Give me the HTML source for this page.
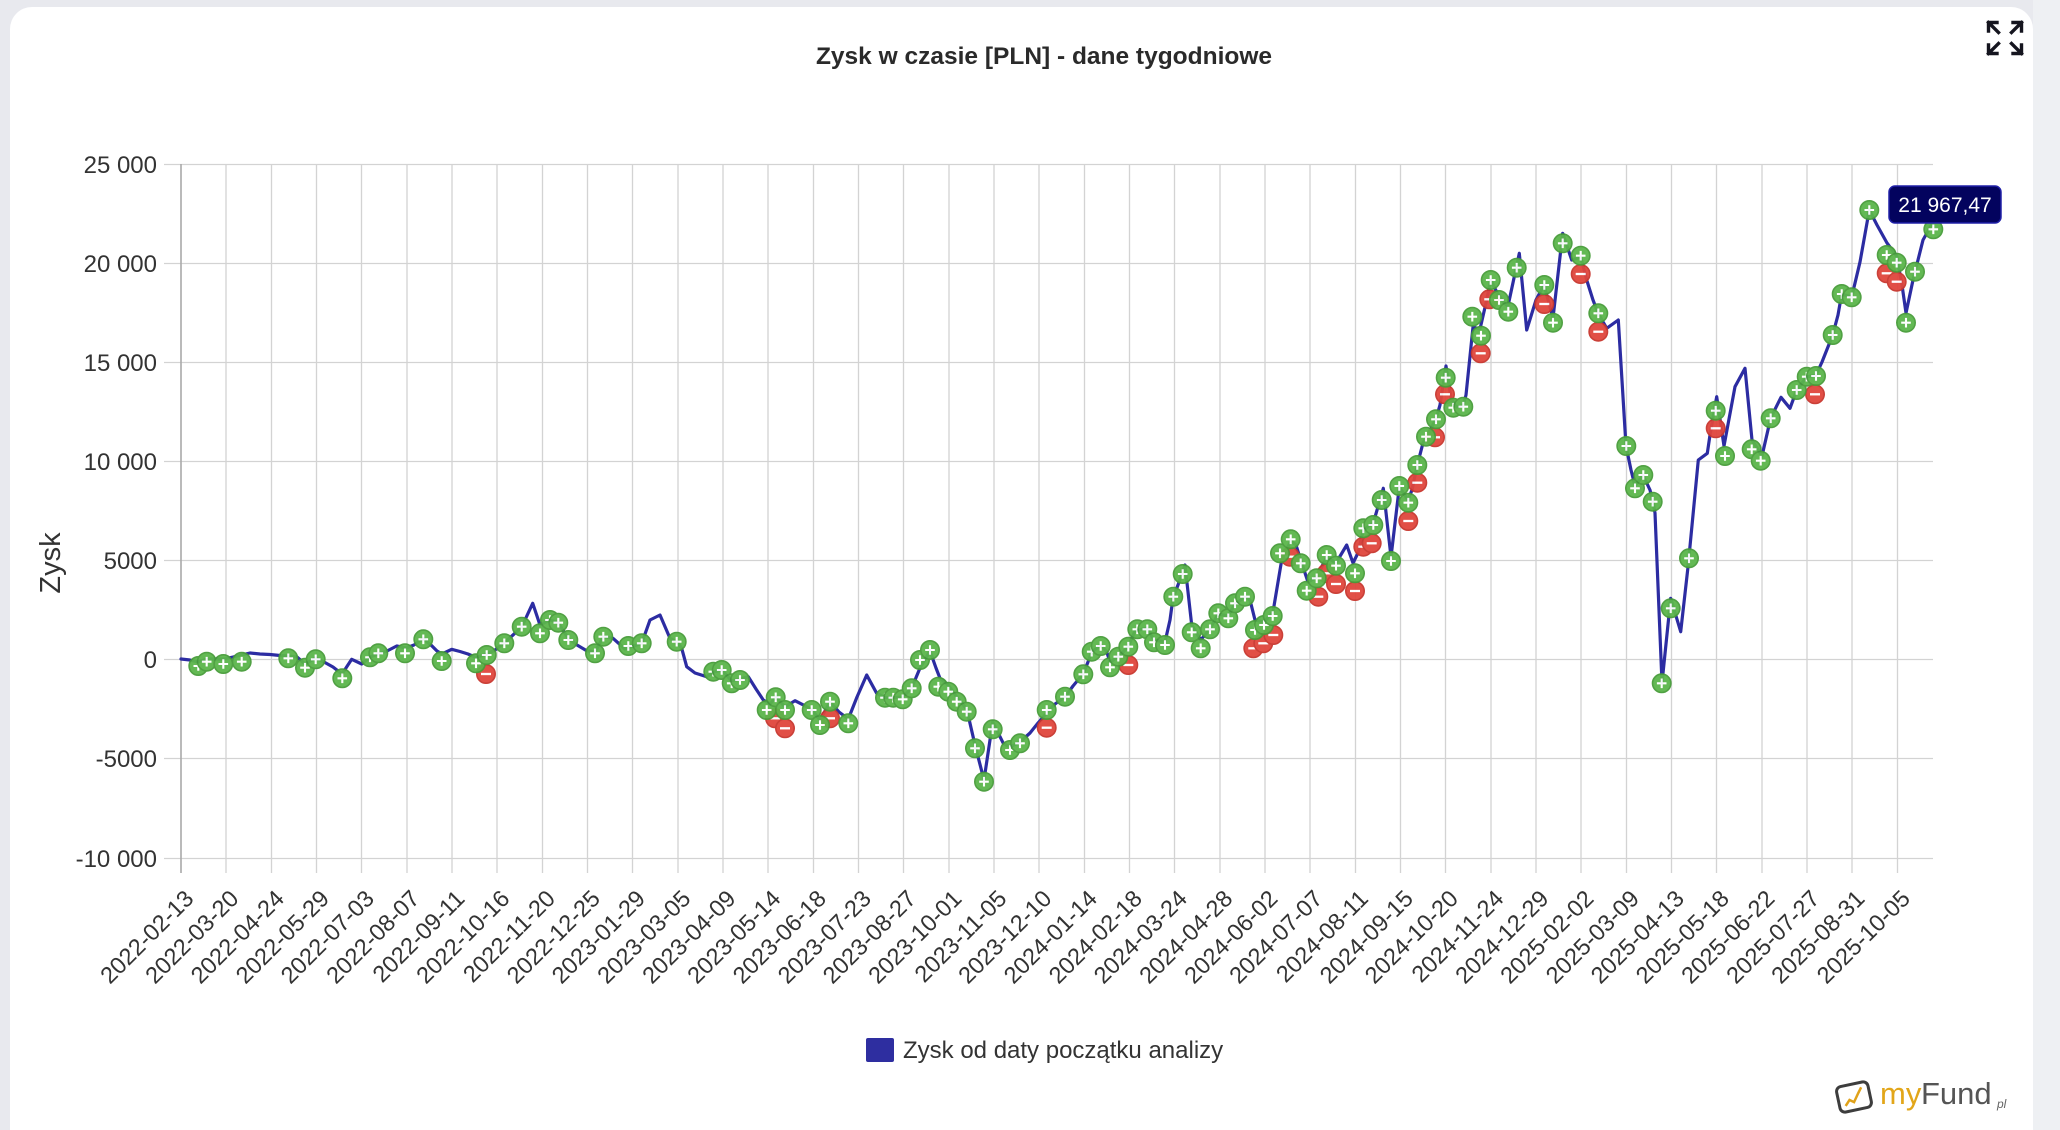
<!DOCTYPE html>
<html><head><meta charset="utf-8"><style>
html,body{margin:0;padding:0;background:#e8e9ee;}
svg{display:block;}
text{font-family:"Liberation Sans",Arial,sans-serif;}
</style></head><body>
<svg width="2060" height="1130" viewBox="0 0 2060 1130" xmlns="http://www.w3.org/2000/svg">
<defs>
<g id="g"><circle r="9.2" fill="#5bb64b" stroke="#479c39" stroke-width="1.6"/><path d="M-4.8 0H4.8M0 -4.8V4.8" stroke="#fff" stroke-width="2.1"/></g>
<g id="r"><circle r="9.2" fill="#e0463d" stroke="#c8362e" stroke-width="1.6"/><path d="M-5 0H5" stroke="#fff" stroke-width="2.3"/></g>
</defs>
<rect x="0" y="0" width="2060" height="1130" fill="#e8e9ee"/>
<rect x="2033" y="0" width="27" height="1130" fill="#eef0f3"/>
<rect x="10" y="7" width="2023" height="1150" rx="22" fill="#ffffff"/>

<!-- title -->
<text x="1044" y="64" text-anchor="middle" font-size="24.5" font-weight="bold" fill="#2a2a2a">Zysk w czasie [PLN] - dane tygodniowe</text>

<!-- expand icon -->
<g stroke="#15151f" stroke-width="3.4" fill="none" stroke-linecap="square">
<path d="M1988.5 31V22.5H1997M1988.5 22.5L1998.5 32.5"/>
<path d="M2021.5 31V22.5H2013M2021.5 22.5L2011.5 32.5"/>
<path d="M1988.5 45V53.5H1997M1988.5 53.5L1998.5 43.5"/>
<path d="M2021.5 45V53.5H2013M2021.5 53.5L2011.5 43.5"/>
</g>

<!-- horizontal grid -->
<g stroke="#d3d3d3" stroke-width="1.3">
<path d="M164 164.5H1933M164 263.5H1933M164 362.5H1933M164 461.5H1933M164 560.5H1933M164 659.5H1933M164 758.5H1933M164 858.5H1933"/>
</g>
<!-- vertical grid -->
<g stroke="#d3d3d3" stroke-width="1.3">
<path d="M226 164V873M271.5 164V873M316.5 164V873M361.5 164V873M407 164V873M452 164V873M497 164V873M542.5 164V873M587.5 164V873M632.5 164V873M678 164V873M723 164V873M768 164V873M813.5 164V873M858.5 164V873M903.5 164V873M949 164V873M994 164V873M1039 164V873M1084.5 164V873M1129.5 164V873M1174.5 164V873M1220 164V873M1265 164V873M1310 164V873M1355.5 164V873M1400.5 164V873M1445.5 164V873M1491 164V873M1536 164V873M1581 164V873M1626.5 164V873M1671.5 164V873M1716.5 164V873M1762 164V873M1807 164V873M1852 164V873M1897.5 164V873"/>
</g>
<path d="M181 164V873" stroke="#a9a9a9" stroke-width="1.6"/>

<!-- y labels -->
<g font-size="24" fill="#333" text-anchor="end">
<text x="157" y="173">25 000</text>
<text x="157" y="272">20 000</text>
<text x="157" y="371">15 000</text>
<text x="157" y="470">10 000</text>
<text x="157" y="569">5000</text>
<text x="157" y="668">0</text>
<text x="157" y="767">-5000</text>
<text x="157" y="867">-10 000</text>
</g>
<text transform="translate(60,563) rotate(-90)" text-anchor="middle" font-size="29" fill="#333">Zysk</text>

<!-- x labels -->
<g font-size="23.5" fill="#333" text-anchor="end">
<text transform="translate(195,900) rotate(-45)">2022-02-13</text>
<text transform="translate(240,900) rotate(-45)">2022-03-20</text>
<text transform="translate(285.5,900) rotate(-45)">2022-04-24</text>
<text transform="translate(330.5,900) rotate(-45)">2022-05-29</text>
<text transform="translate(375.5,900) rotate(-45)">2022-07-03</text>
<text transform="translate(421,900) rotate(-45)">2022-08-07</text>
<text transform="translate(466,900) rotate(-45)">2022-09-11</text>
<text transform="translate(511,900) rotate(-45)">2022-10-16</text>
<text transform="translate(556.5,900) rotate(-45)">2022-11-20</text>
<text transform="translate(601.5,900) rotate(-45)">2022-12-25</text>
<text transform="translate(646.5,900) rotate(-45)">2023-01-29</text>
<text transform="translate(692,900) rotate(-45)">2023-03-05</text>
<text transform="translate(737,900) rotate(-45)">2023-04-09</text>
<text transform="translate(782,900) rotate(-45)">2023-05-14</text>
<text transform="translate(827.5,900) rotate(-45)">2023-06-18</text>
<text transform="translate(872.5,900) rotate(-45)">2023-07-23</text>
<text transform="translate(917.5,900) rotate(-45)">2023-08-27</text>
<text transform="translate(963,900) rotate(-45)">2023-10-01</text>
<text transform="translate(1008,900) rotate(-45)">2023-11-05</text>
<text transform="translate(1053,900) rotate(-45)">2023-12-10</text>
<text transform="translate(1098.5,900) rotate(-45)">2024-01-14</text>
<text transform="translate(1143.5,900) rotate(-45)">2024-02-18</text>
<text transform="translate(1188.5,900) rotate(-45)">2024-03-24</text>
<text transform="translate(1234,900) rotate(-45)">2024-04-28</text>
<text transform="translate(1279,900) rotate(-45)">2024-06-02</text>
<text transform="translate(1324,900) rotate(-45)">2024-07-07</text>
<text transform="translate(1369.5,900) rotate(-45)">2024-08-11</text>
<text transform="translate(1414.5,900) rotate(-45)">2024-09-15</text>
<text transform="translate(1459.5,900) rotate(-45)">2024-10-20</text>
<text transform="translate(1505,900) rotate(-45)">2024-11-24</text>
<text transform="translate(1550,900) rotate(-45)">2024-12-29</text>
<text transform="translate(1595,900) rotate(-45)">2025-02-02</text>
<text transform="translate(1640.5,900) rotate(-45)">2025-03-09</text>
<text transform="translate(1685.5,900) rotate(-45)">2025-04-13</text>
<text transform="translate(1730.5,900) rotate(-45)">2025-05-18</text>
<text transform="translate(1776,900) rotate(-45)">2025-06-22</text>
<text transform="translate(1821,900) rotate(-45)">2025-07-27</text>
<text transform="translate(1866,900) rotate(-45)">2025-08-31</text>
<text transform="translate(1911.5,900) rotate(-45)">2025-10-05</text>
</g>

<!-- series line -->
<polyline fill="none" stroke="#2c2ca2" stroke-width="3.2" stroke-linejoin="round" stroke-linecap="round" points="
181,659 190,660 198,662 207,659 215,659 224,659 233,657 241,655 250,653 260,654 270,654.5 280,655.5 288,656 297,657 305,664 315.7,658 324,662 333,667 342,674 351.7,659.3 361.7,664 370,657 378,654 387,651 396.7,646 406,648 414,645 423.3,638.5 432,646 437,651 442,654 451.7,649.3 460,651.5 468,654 476,657.5 486.7,654 495,650 504,643 513,635 521.7,627 532.7,603.3 540,625 550,620 558,622.5 568,638 577,645 586.7,650.7 595,652 603.3,636.7 613,638.3 625,649 632,646.5 641.7,643.3 650,620 660,615 670,638.3 677,642 681.7,648.3 686.7,666.7 695,673 706.7,676.7 714,672 722,670 731.7,681 740,679 748.3,676.7 756,689 763.3,700 770,704 776,697 785,707 795,700.7 806.7,706.7 812,710 820,720 830,702 839,712 848.3,719 857,697 866.7,675 876.7,693.3 885,697.7 893.3,697.7 902.7,697 911.7,688 920,668 930,651 936,668 940,678.3 948.3,685 956.7,697 966.7,709 975,745 984,780 992.7,722 1003.3,743.3 1010,747 1020,742 1030,733 1038,723 1046.7,713 1055,704 1065,697 1073,686 1083,674 1088,662 1091.7,652 1100.7,645 1106.7,651.7 1110,662 1118,657 1128,647 1135,631 1147,628 1154,640 1165,642 1170,620 1173,598 1178,585 1185,565 1191.7,625 1200.7,640 1210,629 1218,614 1228,616 1235,604 1245,597 1250,600 1255,620 1264,622 1273,612 1281.7,560 1290.7,541 1296,545 1300.7,560 1308,582 1316.7,577 1326.7,557 1336,563 1346.7,545 1353,563 1358,553 1363.3,530 1373.3,523 1383.3,488.3 1391,557 1399.3,487 1408,500 1412,490 1417.3,465 1423,443 1427,436 1436,419 1440,405 1446,366 1451,398 1456,407 1463,406 1466,395 1473,327 1480,329 1486.7,300 1490.7,280 1496.7,292 1504,303 1508,306 1519.3,253.3 1526.7,330 1536,300 1544,285 1553,318 1562.7,233.3 1571.7,260 1580.7,257 1586.7,280 1593,300 1598,313 1606.7,328.3 1618.3,320 1626,446 1631,470 1635,486 1643,475 1650,490 1653,502 1655,513 1662,683 1670.7,598.3 1680.7,631.7 1688,567 1698.3,460 1707.3,453.3 1710,435 1716.7,396.7 1724,446 1735,386.7 1745,368.3 1752,440 1762,456 1770.7,418 1781,397.3 1790,408.3 1796.7,390 1806.7,377 1816,375 1822,362 1832.7,335 1838,315 1841.7,294 1851.7,297 1860,262 1869.3,210 1877,225 1887,243 1896.7,256 1902,285 1906,313 1913,280 1915,272 1923,240 1932,224"/>

<!-- red markers -->
<g opacity="0.95">
<use href="#r" x="486" y="674"/>
<use href="#r" x="775" y="718.3"/>
<use href="#r" x="785" y="728.3"/>
<use href="#r" x="830" y="718.3"/>
<use href="#r" x="1046.7" y="727.7"/>
<use href="#r" x="1128.3" y="665"/>
<use href="#r" x="1253.3" y="648.3"/>
<use href="#r" x="1263.3" y="643.3"/>
<use href="#r" x="1273.3" y="635"/>
<use href="#r" x="1290" y="556.7"/>
<use href="#r" x="1318.3" y="596.7"/>
<use href="#r" x="1326.7" y="573.3"/>
<use href="#r" x="1336" y="584"/>
<use href="#r" x="1355" y="591"/>
<use href="#r" x="1363.3" y="546.7"/>
<use href="#r" x="1371.7" y="543.3"/>
<use href="#r" x="1408.3" y="521"/>
<use href="#r" x="1417.3" y="482.7"/>
<use href="#r" x="1435" y="437.3"/>
<use href="#r" x="1445" y="394.3"/>
<use href="#r" x="1480.7" y="353.3"/>
<use href="#r" x="1489.3" y="299.3"/>
<use href="#r" x="1544.3" y="304"/>
<use href="#r" x="1580.7" y="274"/>
<use href="#r" x="1598.3" y="331.7"/>
<use href="#r" x="1715.7" y="428.3"/>
<use href="#r" x="1815" y="394.3"/>
<use href="#r" x="1886.7" y="273.3"/>
<use href="#r" x="1896.7" y="281.7"/>
</g>
<!-- green markers -->
<g opacity="0.95">
<use href="#g" x="198.3" y="666"/>
<use href="#g" x="206.7" y="661.7"/>
<use href="#g" x="223.3" y="664"/>
<use href="#g" x="241.7" y="661.7"/>
<use href="#g" x="288.3" y="658.3"/>
<use href="#g" x="305" y="667.7"/>
<use href="#g" x="315.7" y="659.3"/>
<use href="#g" x="342.3" y="678.3"/>
<use href="#g" x="370" y="657.3"/>
<use href="#g" x="378.3" y="653.3"/>
<use href="#g" x="405" y="653.3"/>
<use href="#g" x="423.3" y="639.3"/>
<use href="#g" x="441.7" y="661"/>
<use href="#g" x="476" y="663.3"/>
<use href="#g" x="486.7" y="655"/>
<use href="#g" x="504.3" y="643.3"/>
<use href="#g" x="521.7" y="626.7"/>
<use href="#g" x="540" y="633.3"/>
<use href="#g" x="550" y="620"/>
<use href="#g" x="558.3" y="622.7"/>
<use href="#g" x="568.3" y="640"/>
<use href="#g" x="595" y="653.3"/>
<use href="#g" x="603.3" y="636.7"/>
<use href="#g" x="628.3" y="646"/>
<use href="#g" x="641.7" y="643.3"/>
<use href="#g" x="676.7" y="641.7"/>
<use href="#g" x="713.3" y="671.7"/>
<use href="#g" x="721.7" y="670"/>
<use href="#g" x="731.7" y="683.3"/>
<use href="#g" x="740" y="680"/>
<use href="#g" x="766.7" y="710"/>
<use href="#g" x="775.7" y="697.3"/>
<use href="#g" x="785" y="710"/>
<use href="#g" x="811.7" y="710"/>
<use href="#g" x="820" y="725"/>
<use href="#g" x="830" y="701.7"/>
<use href="#g" x="848.3" y="723.3"/>
<use href="#g" x="885" y="697.7"/>
<use href="#g" x="893.3" y="697.7"/>
<use href="#g" x="902.7" y="699.3"/>
<use href="#g" x="911.7" y="688.3"/>
<use href="#g" x="920" y="660"/>
<use href="#g" x="930" y="650"/>
<use href="#g" x="938.3" y="686.7"/>
<use href="#g" x="948.3" y="691.7"/>
<use href="#g" x="956.7" y="701.7"/>
<use href="#g" x="966.7" y="711.7"/>
<use href="#g" x="975" y="748.3"/>
<use href="#g" x="984" y="781.7"/>
<use href="#g" x="992.7" y="729.3"/>
<use href="#g" x="1010" y="750"/>
<use href="#g" x="1020" y="743.3"/>
<use href="#g" x="1046.7" y="710"/>
<use href="#g" x="1065" y="696.7"/>
<use href="#g" x="1083.3" y="674.3"/>
<use href="#g" x="1091.7" y="651.7"/>
<use href="#g" x="1100.7" y="646"/>
<use href="#g" x="1110" y="667.3"/>
<use href="#g" x="1118.3" y="656.7"/>
<use href="#g" x="1128.3" y="646.7"/>
<use href="#g" x="1137.3" y="629.3"/>
<use href="#g" x="1147.3" y="629.3"/>
<use href="#g" x="1154" y="642.3"/>
<use href="#g" x="1165" y="645"/>
<use href="#g" x="1173.3" y="596.7"/>
<use href="#g" x="1182.7" y="574"/>
<use href="#g" x="1191.7" y="632.3"/>
<use href="#g" x="1200.7" y="648.3"/>
<use href="#g" x="1210" y="629.3"/>
<use href="#g" x="1218.3" y="613.3"/>
<use href="#g" x="1228.3" y="618.3"/>
<use href="#g" x="1235" y="603.3"/>
<use href="#g" x="1245" y="596.7"/>
<use href="#g" x="1255" y="630"/>
<use href="#g" x="1264" y="625"/>
<use href="#g" x="1272.7" y="616"/>
<use href="#g" x="1280" y="553.3"/>
<use href="#g" x="1290.7" y="539.3"/>
<use href="#g" x="1300.7" y="563.3"/>
<use href="#g" x="1306.7" y="590.7"/>
<use href="#g" x="1316.7" y="578.3"/>
<use href="#g" x="1326.7" y="555"/>
<use href="#g" x="1336" y="565.7"/>
<use href="#g" x="1355" y="573.3"/>
<use href="#g" x="1363.3" y="528.3"/>
<use href="#g" x="1373.3" y="525"/>
<use href="#g" x="1381.7" y="500"/>
<use href="#g" x="1391" y="561"/>
<use href="#g" x="1399.3" y="486"/>
<use href="#g" x="1408.3" y="502.7"/>
<use href="#g" x="1417.3" y="465"/>
<use href="#g" x="1426" y="436.7"/>
<use href="#g" x="1436" y="419.3"/>
<use href="#g" x="1445.7" y="377.7"/>
<use href="#g" x="1453.3" y="407.7"/>
<use href="#g" x="1463.3" y="406.7"/>
<use href="#g" x="1472.3" y="316.7"/>
<use href="#g" x="1481" y="335.7"/>
<use href="#g" x="1490.7" y="280"/>
<use href="#g" x="1499" y="300"/>
<use href="#g" x="1508.3" y="311.7"/>
<use href="#g" x="1516.7" y="267.7"/>
<use href="#g" x="1544.3" y="285"/>
<use href="#g" x="1553" y="322.7"/>
<use href="#g" x="1562.7" y="243.3"/>
<use href="#g" x="1580.7" y="255.7"/>
<use href="#g" x="1598.3" y="313.3"/>
<use href="#g" x="1626.3" y="446"/>
<use href="#g" x="1635" y="488.3"/>
<use href="#g" x="1643.3" y="475"/>
<use href="#g" x="1652.7" y="501.7"/>
<use href="#g" x="1661.7" y="683.3"/>
<use href="#g" x="1670.7" y="608.3"/>
<use href="#g" x="1689" y="558.3"/>
<use href="#g" x="1715.7" y="410.7"/>
<use href="#g" x="1725" y="456"/>
<use href="#g" x="1751.7" y="449.3"/>
<use href="#g" x="1760.7" y="460.7"/>
<use href="#g" x="1770.7" y="418.3"/>
<use href="#g" x="1796.7" y="390"/>
<use href="#g" x="1806.7" y="376.7"/>
<use href="#g" x="1816" y="376"/>
<use href="#g" x="1832.7" y="335"/>
<use href="#g" x="1841.7" y="294"/>
<use href="#g" x="1851.7" y="297.3"/>
<use href="#g" x="1869.3" y="210"/>
<use href="#g" x="1886.7" y="255"/>
<use href="#g" x="1896.7" y="262.7"/>
<use href="#g" x="1906" y="322.7"/>
<use href="#g" x="1915" y="271.7"/>
<use href="#g" x="1933.3" y="229.3"/>
</g>

<!-- tooltip -->
<rect x="1889" y="186" width="112" height="37" rx="6" fill="#03035e" stroke="#2020a8" stroke-width="1.5"/>
<text x="1945" y="212" text-anchor="middle" font-size="21" fill="#ffffff">21 967,47</text>

<!-- legend -->
<rect x="866" y="1038" width="28" height="24" rx="2" fill="#2e2ea0"/>
<text x="903" y="1058" font-size="24" fill="#333">Zysk od daty początku analizy</text>

<!-- logo -->
<g transform="translate(1854,1097) rotate(-12)">
<rect x="-16" y="-13" width="32" height="26" rx="5" fill="#fff" stroke="#3d3d3d" stroke-width="3"/>
<path d="M-10 7L-5 2L-1 5L5 -3L9 -8" fill="none" stroke="#e0a21a" stroke-width="2.5"/>
</g>
<text x="1880" y="1104" font-size="31" fill="#e2a619">my</text>
<text x="1921" y="1104" font-size="31" fill="#555">Fund</text>
<text x="1997" y="1108" font-size="12" fill="#666" font-style="italic">pl</text>
</svg>
</body></html>
